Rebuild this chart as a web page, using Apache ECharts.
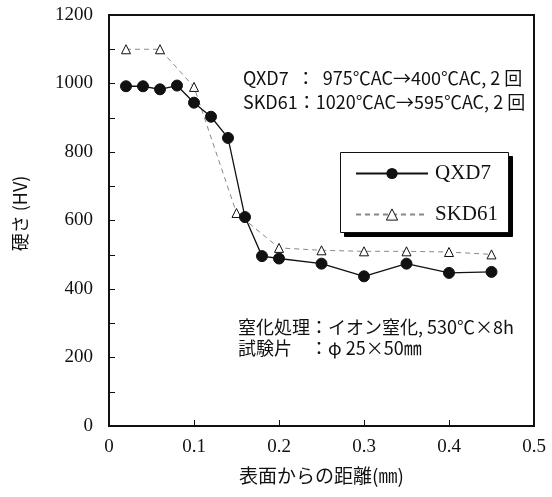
<!DOCTYPE html>
<html><head><meta charset="utf-8">
<script src="https://cdn.jsdelivr.net/npm/echarts@6/dist/echarts.min.js"></script>
<style>html,body{margin:0;padding:0;background:#fff}#c{width:552px;height:497px}</style>
</head><body><div id="c"></div>
<script>
const qxd7X = [0.02,0.04,0.06,0.08,0.10,0.12,0.14,0.16,0.18,0.20,0.25,0.30,0.35,0.40,0.45];
const qxd7Y = [992,992,983,994,944,903,841,610,496,489,474,437,474,447,450];
const skd61X = [0.02,0.06,0.10,0.15,0.20,0.25,0.30,0.35,0.40,0.45];
const skd61Y = [1100,1100,990,622,520,513,510,510,508,501];
const xTitle = '表面からの距離(㎜)';
const yTitle = '硬さ (HV)';
const note1 = 'QXD7  ：  975℃AC→400℃AC, 2 回';
const note2 = 'SKD61：1020℃AC→595℃AC, 2 回';
const note3 = '窒化処理：イオン窒化, 530℃×8h';
const note4 = '試験片　：φ 25×50㎜';

const serif = '"Liberation Serif","DejaVu Serif",serif';
const jp = '"Noto Sans CJK JP",sans-serif';
const chart = echarts.init(document.getElementById('c'));
const zip = (a,b)=>a.map((v,i)=>[v,b[i]]);
const txt = (x,y,t)=>({type:'text',x:x,y:y,z:10,style:{text:t,fontFamily:jp,fontSize:18,fill:'#111',verticalAlign:'middle',textVerticalAlign:'middle'}});
chart.setOption({
  animation:false,
  backgroundColor:'#fff',
  grid:{left:109,right:18,top:15,bottom:71,show:true,borderColor:'#111',borderWidth:2},
  xAxis:{type:'value',min:0,max:0.5,interval:0.1,
    axisLine:{lineStyle:{color:'#111',width:2}},
    axisTick:{inside:true,length:6,lineStyle:{color:'#111'}},
    splitLine:{show:false},
    axisLabel:{color:'#111',fontFamily:serif,fontSize:19,margin:12,formatter:v=>String(+v.toFixed(1))},
    name:xTitle,nameLocation:'middle',nameGap:40,
    nameTextStyle:{color:'#111',fontFamily:jp,fontSize:19}},
  yAxis:{type:'value',min:0,max:1200,interval:200,
    axisLine:{lineStyle:{color:'#111',width:2}},
    axisTick:{inside:true,length:6,lineStyle:{color:'#111'}},
    minorTick:{show:true,splitNumber:2,length:6,lineStyle:{color:'#111'}},
    splitLine:{show:false},
    axisLabel:{color:'#111',fontFamily:serif,fontSize:19,margin:16,formatter:v=>String(v)},
    name:yTitle,nameLocation:'middle',nameGap:80,nameRotate:90,
    nameTextStyle:{color:'#111',fontFamily:jp,fontSize:18,padding:[0,0,0,14]}},
  legend:{left:355,top:163,orient:'vertical',z:20,
    padding:0,itemGap:20,itemWidth:72,itemHeight:14,
    textStyle:{color:'#111',fontFamily:serif,fontSize:21,lineHeight:14,padding:[0,0,0,2]},
    data:[{name:'QXD7'},{name:'SKD61',itemStyle:{borderWidth:1}}]},
  graphic:{elements:[
    {type:'rect',id:'shadowBox',left:344,top:156,z:6,shape:{width:168,height:80},style:{fill:'#000',stroke:'#000',lineWidth:1}},
    {type:'rect',id:'legendBox',left:340,top:152,z:7,shape:{width:168,height:80},style:{fill:'#fff',stroke:'#111',lineWidth:1}},
    txt(243,78,note1),
    txt(243,102,note2),
    txt(238,327,note3),
    txt(238,348,note4)
  ]},
  series:[
    {name:'SKD61',type:'line',data:zip(skd61X,skd61Y),symbol:'triangle',symbolSize:9,
      lineStyle:{color:'#888',width:1,type:[5,4]},
      itemStyle:{color:'#fff',borderColor:'#111',borderWidth:1},z:2},
    {name:'QXD7',type:'line',data:zip(qxd7X,qxd7Y),symbol:'circle',symbolSize:11,
      lineStyle:{color:'#111',width:1.3},
      itemStyle:{color:'#111',borderColor:'#111'},z:3}
  ]
});
</script></body></html>
